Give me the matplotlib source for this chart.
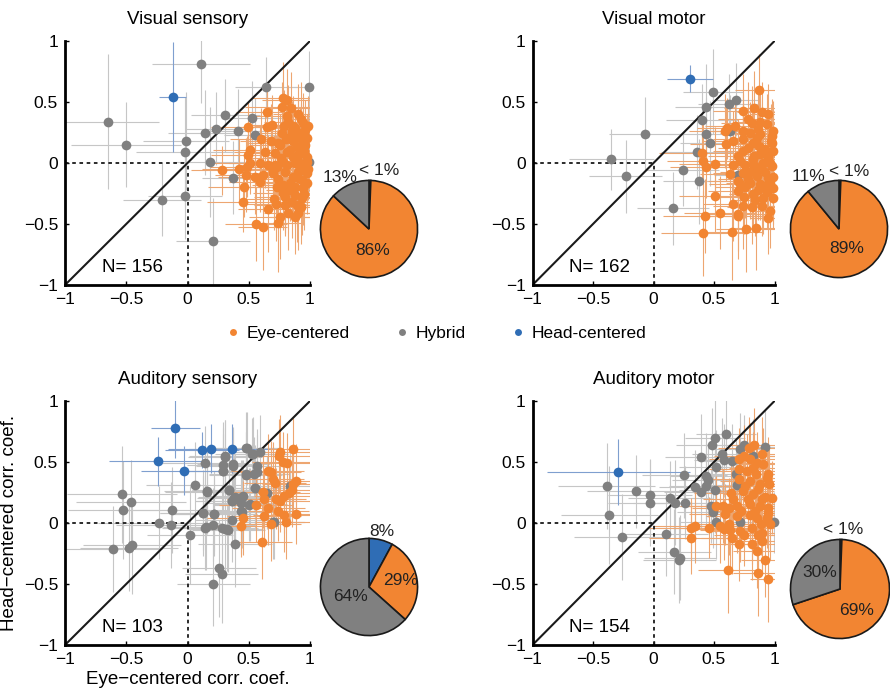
import numpy as np
import matplotlib.pyplot as plt
from matplotlib.lines import Line2D

plt.rcParams['font.family'] = ['Liberation Sans', 'DejaVu Sans']

ORANGE = '#f28532'
GRAY = '#808080'
BLUE = '#2f6db5'

titles = ["Visual sensory", "Visual motor", "Auditory sensory", "Auditory motor"]
n_cells = [156, 162, 103, 154]
tick_vals = [-1, -0.5, 0, 0.5, 1]
tick_labels = ["\u22121", "\u22120.5", "0", "0.5", "1"]

# each point: (eye-centered r, head-centered r, x error, y error)
vs_head = [(-0.12, 0.54, 0.11, 0.45)]
vs_hyb = [
    (0.11, 0.81, 0.40, 0.32), (-0.65, 0.34, 0.42, 0.55), (-0.50, 0.15, 0.45, 0.35),
    (-0.21, -0.30, 0.32, 0.30), (-0.02, -0.27, 0.30, 0.35), (-0.01, 0.18, 0.35, 0.40),
    (-0.02, 0.09, 0.40, 0.45), (0.14, 0.25, 0.30, 0.35), (0.23, 0.28, 0.25, 0.30),
    (0.31, 0.39, 0.28, 0.30), (0.64, 0.62, 0.25, 0.25), (0.99, 0.62, 0.15, 0.30),
    (0.53, 0.37, 0.25, 0.30), (0.55, 0.23, 0.25, 0.30), (0.41, 0.26, 0.25, 0.35),
    (0.18, 0.005, 0.30, 0.45), (0.37, -0.12, 0.25, 0.30), (0.21, -0.64, 0.30, 0.35),
    (0.99, 0.01, 0.15, 0.25),
]
vs_eye = [
    (0.78, 0.53, 0.25, 0.30), (0.81, 0.52, 0.20, 0.25), (0.77, 0.46, 0.30, 0.20),
    (0.845, 0.45, 0.20, 0.30), (0.646, 0.415, 0.25, 0.20), (0.81, 0.385, 0.30, 0.25),
    (0.823, 0.34, 0.20, 0.30), (0.946, 0.325, 0.15, 0.25), (0.491, 0.298, 0.30, 0.20),
    (0.646, 0.292, 0.25, 0.30), (0.687, 0.31, 0.20, 0.25), (0.77, 0.243, 0.25, 0.30),
    (0.877, 0.284, 0.20, 0.20), (0.96, 0.27, 0.15, 0.25), (0.837, 0.215, 0.25, 0.30),
    (0.918, 0.202, 0.20, 0.25), (0.973, 0.202, 0.15, 0.20), (0.741, 0.161, 0.25, 0.30),
    (0.891, 0.133, 0.20, 0.25), (0.51, 0.11, 0.30, 0.25), (0.633, 0.093, 0.25, 0.30),
    (0.714, 0.079, 0.20, 0.25), (0.81, 0.093, 0.25, 0.20), (0.932, 0.079, 0.20, 0.30),
    (0.491, 0.065, 0.30, 0.20), (0.973, 0.052, 0.15, 0.25), (0.51, -0.003, 0.30, 0.25),
    (0.592, 0.002, 0.25, 0.30), (0.714, -0.017, 0.25, 0.25), (0.782, 0.011, 0.20, 0.30),
    (0.877, -0.003, 0.20, 0.25), (0.946, -0.017, 0.15, 0.20), (0.42, -0.052, 0.30, 0.25),
    (0.475, -0.099, 0.25, 0.30), (0.70, -0.058, 0.25, 0.25), (0.796, -0.071, 0.20, 0.30),
    (0.905, -0.071, 0.20, 0.25), (0.973, -0.085, 0.15, 0.25), (0.551, -0.118, 0.30, 0.30),
    (0.592, -0.153, 0.25, 0.25), (0.741, -0.134, 0.25, 0.30), (0.932, -0.14, 0.20, 0.25),
    (0.464, -0.194, 0.30, 0.25), (0.728, -0.20, 0.25, 0.30), (0.837, -0.222, 0.20, 0.25),
    (0.946, -0.208, 0.15, 0.30), (0.877, -0.263, 0.20, 0.25), (0.796, -0.276, 0.25, 0.30),
    (0.709, -0.298, 0.25, 0.25), (0.932, -0.29, 0.20, 0.30), (0.456, -0.317, 0.30, 0.25),
    (0.85, -0.317, 0.20, 0.30), (0.796, -0.345, 0.25, 0.25), (0.891, -0.345, 0.20, 0.30),
    (0.66, -0.38, 0.25, 0.35), (0.823, -0.413, 0.20, 0.30), (0.755, -0.44, 0.25, 0.35),
    (0.877, -0.446, 0.20, 0.30), (0.741, -0.495, 0.20, 0.40), (0.559, -0.50, 0.25, 0.30),
    (0.613, -0.528, 0.20, 0.35), (0.924, 0.243, 0.15, 0.25), (0.864, 0.183, 0.20, 0.30),
    (0.755, 0.148, 0.25, 0.25), (0.837, 0.107, 0.20, 0.30), (0.959, 0.148, 0.15, 0.25),
    (0.905, 0.066, 0.20, 0.25), (0.973, 0.011, 0.15, 0.30), (0.81, -0.016, 0.25, 0.25),
    (0.728, -0.03, 0.25, 0.30), (0.918, -0.057, 0.20, 0.25), (0.864, -0.112, 0.20, 0.30),
    (0.973, -0.167, 0.15, 0.25), (0.782, -0.249, 0.25, 0.30), (0.70, -0.085, 0.25, 0.25),
    (0.483, -0.03, 0.30, 0.25), (0.905, -0.413, 0.20, 0.30), (0.279, -0.06, 0.25, 0.20),
    (0.90, 0.40, 0.20, 0.25), (0.93, 0.36, 0.15, 0.30), (0.86, 0.30, 0.20, 0.25),
    (0.98, 0.30, 0.15, 0.25), (0.90, 0.22, 0.20, 0.30), (0.80, 0.20, 0.25, 0.25),
    (0.95, 0.10, 0.15, 0.25), (0.86, 0.05, 0.20, 0.30), (0.76, 0.04, 0.25, 0.25),
    (0.90, -0.12, 0.20, 0.30), (0.84, -0.16, 0.20, 0.25), (0.95, -0.25, 0.15, 0.30),
    (0.88, -0.20, 0.20, 0.25), (0.78, -0.18, 0.25, 0.30), (0.66, -0.02, 0.25, 0.25),
    (0.62, -0.10, 0.25, 0.30), (0.98, -0.05, 0.15, 0.25), (0.92, 0.00, 0.20, 0.30),
    (0.85, 0.26, 0.20, 0.25), (0.79, 0.30, 0.25, 0.30), (0.93, 0.14, 0.20, 0.25),
    (0.68, 0.18, 0.25, 0.30), (0.60, 0.20, 0.25, 0.25), (0.72, -0.34, 0.25, 0.30),
    (0.93, -0.36, 0.20, 0.30),
]

vm_head = [(0.30, 0.69, 0.19, 0.11)]
vm_hyb = [
    (0.49, 0.585, 0.25, 0.35), (0.43, 0.46, 0.25, 0.35), (0.40, 0.35, 0.30, 0.30),
    (0.43, 0.235, 0.30, 0.30), (0.47, 0.16, 0.25, 0.35), (0.36, 0.09, 0.30, 0.30),
    (-0.07, 0.24, 0.30, 0.30), (-0.35, 0.03, 0.35, 0.25), (-0.23, -0.11, 0.30, 0.30),
    (0.24, -0.055, 0.30, 0.30), (0.38, -0.15, 0.30, 0.35), (0.16, -0.37, 0.30, 0.30),
    (0.62, 0.48, 0.25, 0.25), (0.68, 0.52, 0.20, 0.30), (0.63, 0.26, 0.25, 0.30),
    (0.70, -0.10, 0.20, 0.25), (0.95, -0.20, 0.15, 0.25),
]
vm_eye = [
    (0.874, 0.596, 0.20, 0.30), (0.742, 0.426, 0.25, 0.30), (0.894, 0.418, 0.20, 0.25),
    (0.831, 0.451, 0.25, 0.30), (0.674, 0.303, 0.25, 0.25), (0.591, 0.262, 0.30, 0.30),
    (0.61, 0.284, 0.25, 0.25), (0.811, 0.33, 0.25, 0.30), (0.935, 0.317, 0.15, 0.25),
    (0.742, 0.262, 0.25, 0.30), (0.88, 0.235, 0.20, 0.25), (0.977, 0.221, 0.15, 0.30),
    (0.654, 0.18, 0.25, 0.25), (0.60, 0.153, 0.30, 0.30), (0.825, 0.167, 0.20, 0.25),
    (0.742, 0.098, 0.25, 0.30), (0.92, 0.112, 0.20, 0.25), (0.99, 0.098, 0.15, 0.30),
    (0.398, 0.085, 0.35, 0.25), (0.412, 0.016, 0.30, 0.30), (0.434, -0.033, 0.30, 0.25),
    (0.508, -0.005, 0.30, 0.30), (0.714, 0.016, 0.25, 0.25), (0.825, 0.03, 0.20, 0.30),
    (0.907, 0.003, 0.20, 0.25), (0.977, -0.025, 0.15, 0.30), (0.632, -0.093, 0.25, 0.25),
    (0.742, -0.079, 0.25, 0.30), (0.853, -0.107, 0.20, 0.25), (0.949, -0.12, 0.15, 0.30),
    (0.701, -0.148, 0.25, 0.25), (0.797, -0.161, 0.20, 0.30), (0.92, -0.189, 0.20, 0.25),
    (0.99, -0.202, 0.15, 0.30), (0.508, -0.27, 0.30, 0.30), (0.701, -0.229, 0.25, 0.30),
    (0.825, -0.257, 0.20, 0.25), (0.907, -0.284, 0.20, 0.30), (0.99, -0.284, 0.15, 0.25),
    (0.659, -0.339, 0.25, 0.30), (0.742, -0.352, 0.25, 0.35), (0.811, -0.361, 0.20, 0.30),
    (0.894, -0.352, 0.20, 0.25), (0.963, -0.393, 0.15, 0.30), (0.426, -0.434, 0.35, 0.30),
    (0.55, -0.407, 0.30, 0.30), (0.701, -0.434, 0.25, 0.35), (0.949, -0.448, 0.15, 0.30),
    (0.412, -0.576, 0.35, 0.35), (0.646, -0.562, 0.25, 0.40), (0.765, -0.543, 0.25, 0.35),
    (0.847, -0.529, 0.20, 0.35), (0.879, 0.336, 0.20, 0.25), (0.738, 0.193, 0.25, 0.30),
    (0.858, 0.208, 0.20, 0.25), (0.968, 0.18, 0.15, 0.30), (0.985, 0.262, 0.15, 0.25),
    (0.821, -0.011, 0.20, 0.30), (0.985, -0.116, 0.15, 0.25), (0.711, -0.175, 0.25, 0.30),
    (0.697, -0.42, 0.25, 0.30), (0.78, 0.36, 0.25, 0.30), (0.95, 0.40, 0.15, 0.25),
    (0.86, 0.28, 0.20, 0.30), (0.78, 0.12, 0.25, 0.25), (0.88, 0.07, 0.20, 0.30),
    (0.95, 0.05, 0.15, 0.25), (0.76, -0.02, 0.25, 0.30), (0.86, -0.05, 0.20, 0.25),
    (0.92, -0.07, 0.20, 0.30), (0.78, -0.13, 0.25, 0.25), (0.88, -0.17, 0.20, 0.30),
    (0.96, -0.16, 0.15, 0.25), (0.75, -0.28, 0.25, 0.30), (0.86, -0.22, 0.20, 0.25),
    (0.94, -0.24, 0.15, 0.30), (0.80, 0.25, 0.25, 0.25), (0.70, 0.06, 0.25, 0.30),
    (0.66, -0.02, 0.25, 0.25), (0.98, 0.16, 0.15, 0.30), (0.87, 0.14, 0.20, 0.25),
    (0.83, 0.06, 0.20, 0.25), (0.90, -0.02, 0.20, 0.30), (0.80, -0.07, 0.25, 0.25),
    (0.96, 0.00, 0.15, 0.25), (0.84, -0.30, 0.20, 0.30), (0.76, -0.20, 0.25, 0.25),
]

as_head = [
    (-0.10, 0.78, 0.20, 0.25), (-0.24, 0.505, 0.40, 0.20), (-0.03, 0.43, 0.35, 0.20),
    (0.12, 0.60, 0.30, 0.15), (0.19, 0.61, 0.35, 0.20), (0.36, 0.61, 0.35, 0.20),
]
as_hyb = [
    (0.475, 0.612, 0.30, 0.30), (0.532, 0.568, 0.25, 0.30), (0.592, 0.582, 0.25, 0.30),
    (0.309, 0.546, 0.30, 0.30), (0.143, 0.492, 0.35, 0.30), (0.293, 0.426, 0.30, 0.35),
    (0.371, 0.464, 0.30, 0.30), (0.475, 0.393, 0.30, 0.35), (0.567, 0.418, 0.25, 0.30),
    (0.061, 0.314, 0.40, 0.35), (0.159, 0.262, 0.35, 0.30), (0.339, 0.273, 0.30, 0.35),
    (0.554, 0.287, 0.25, 0.30), (0.38, 0.208, 0.30, 0.35), (0.448, 0.213, 0.30, 0.30),
    (0.366, 0.18, 0.30, 0.35), (0.505, 0.15, 0.30, 0.30), (0.437, 0.096, 0.30, 0.35),
    (0.129, 0.082, 0.35, 0.35), (0.216, 0.074, 0.35, 0.30), (0.361, 0.027, 0.30, 0.35),
    (0.148, -0.036, 0.35, 0.35), (0.205, -0.014, 0.35, 0.30), (0.279, -0.038, 0.30, 0.35),
    (0.32, -0.046, 0.30, 0.35), (0.02, -0.096, 0.35, 0.40), (0.388, -0.175, 0.30, 0.35),
    (0.257, -0.372, 0.30, 0.40), (0.279, -0.418, 0.30, 0.40), (0.211, -0.497, 0.30, 0.35),
    (-0.129, 0.107, 0.45, 0.35), (-0.23, 0.003, 0.50, 0.30), (-0.135, -0.016, 0.45, 0.35),
    (-0.535, 0.234, 0.45, 0.40), (-0.461, 0.169, 0.45, 0.35), (-0.527, 0.107, 0.45, 0.40),
    (-0.605, -0.213, 0.40, 0.35), (-0.475, -0.205, 0.40, 0.35), (-0.456, -0.183, 0.40, 0.40),
    (0.701, 0.005, 0.25, 0.30), (0.837, 0.30, 0.25, 0.30), (0.483, 0.612, 0.30, 0.30),
    (0.524, 0.563, 0.30, 0.30), (0.306, 0.541, 0.30, 0.30), (0.292, 0.475, 0.30, 0.35),
    (0.374, 0.486, 0.30, 0.30), (0.286, 0.426, 0.30, 0.30), (0.477, 0.399, 0.30, 0.35),
    (0.539, 0.404, 0.30, 0.30), (0.567, 0.467, 0.25, 0.30), (0.163, 0.257, 0.35, 0.35),
    (0.34, 0.27, 0.30, 0.30), (0.388, 0.213, 0.30, 0.35), (0.456, 0.219, 0.30, 0.30),
    (0.434, 0.167, 0.30, 0.35), (0.361, 0.18, 0.30, 0.30), (0.551, 0.29, 0.25, 0.35),
    (0.51, 0.153, 0.30, 0.30), (0.647, 0.249, 0.25, 0.30), (0.216, 0.077, 0.35, 0.35),
    (0.442, 0.093, 0.30, 0.30), (0.306, -0.049, 0.30, 0.35), (0.333, -0.054, 0.30, 0.35),
    (0.71, 0.006, 0.25, 0.30), (0.143, -0.038, 0.35, 0.35), (0.129, 0.082, 0.35, 0.30),
]
as_eye = [
    (0.755, 0.585, 0.25, 0.30), (0.864, 0.609, 0.20, 0.25), (0.75, 0.55, 0.25, 0.30),
    (0.81, 0.49, 0.25, 0.25), (0.654, 0.429, 0.30, 0.30), (0.679, 0.42, 0.25, 0.25),
    (0.886, 0.344, 0.20, 0.30), (0.714, 0.33, 0.25, 0.25), (0.619, 0.257, 0.30, 0.30),
    (0.624, 0.194, 0.30, 0.25), (0.556, 0.148, 0.30, 0.30), (0.755, 0.18, 0.25, 0.25),
    (0.79, 0.22, 0.25, 0.30), (0.826, 0.246, 0.25, 0.25), (0.85, 0.27, 0.25, 0.30),
    (0.624, 0.057, 0.30, 0.25), (0.456, 0.041, 0.30, 0.30), (0.437, -0.025, 0.30, 0.25),
    (0.785, 0.066, 0.25, 0.30), (0.888, 0.074, 0.20, 0.25), (0.801, 0.005, 0.25, 0.30),
    (0.605, -0.156, 0.25, 0.30), (0.78, 0.50, 0.25, 0.25), (0.70, 0.36, 0.25, 0.30),
    (0.74, 0.10, 0.25, 0.25), (0.66, 0.12, 0.30, 0.30), (0.86, 0.32, 0.25, 0.25),
    (0.68, -0.01, 0.25, 0.30), (0.72, 0.20, 0.25, 0.25),
]

am_head = [(-0.29, 0.42, 0.59, 0.27)]
am_hyb = [
    (0.60, 0.732, 0.25, 0.30), (0.508, 0.699, 0.25, 0.35), (0.486, 0.639, 0.30, 0.30),
    (0.393, 0.541, 0.30, 0.35), (0.569, 0.563, 0.25, 0.30), (0.583, 0.514, 0.25, 0.30),
    (0.646, 0.508, 0.25, 0.30), (0.715, 0.604, 0.20, 0.30), (0.75, 0.639, 0.20, 0.25),
    (0.924, 0.623, 0.15, 0.30), (0.514, 0.459, 0.30, 0.30), (0.434, 0.385, 0.30, 0.35),
    (0.453, 0.35, 0.30, 0.30), (0.255, 0.39, 0.35, 0.35), (0.343, 0.295, 0.30, 0.30),
    (0.431, 0.303, 0.30, 0.35), (0.39, 0.257, 0.30, 0.30), (0.508, 0.268, 0.30, 0.35),
    (-0.387, 0.303, 0.40, 0.35), (-0.147, 0.26, 0.40, 0.30), (-0.029, 0.227, 0.35, 0.30),
    (-0.029, 0.164, 0.35, 0.35), (0.137, 0.208, 0.35, 0.30), (0.18, 0.167, 0.35, 0.35),
    (0.257, 0.167, 0.30, 0.30), (-0.365, 0.068, 0.40, 0.40), (-0.261, -0.115, 0.40, 0.35),
    (0.10, -0.087, 0.35, 0.35), (0.172, -0.235, 0.30, 0.35), (0.219, -0.284, 0.30, 0.35),
    (0.213, -0.303, 0.30, 0.35), (0.476, 0.14, 0.30, 0.30), (0.495, 0.093, 0.30, 0.30),
    (0.517, 0.008, 0.30, 0.30), (0.688, 0.314, 0.25, 0.30), (0.715, 0.005, 0.25, 0.30),
    (0.996, 0.005, 0.15, 0.25), (0.82, 0.55, 0.20, 0.30), (0.68, 0.40, 0.25, 0.30),
]
am_eye = [
    (0.833, 0.639, 0.20, 0.30), (0.786, 0.617, 0.25, 0.25), (0.90, 0.568, 0.20, 0.30),
    (0.709, 0.527, 0.25, 0.25), (0.797, 0.522, 0.25, 0.30), (0.858, 0.495, 0.20, 0.25),
    (0.903, 0.481, 0.20, 0.30), (0.707, 0.44, 0.25, 0.25), (0.771, 0.426, 0.25, 0.30),
    (0.845, 0.399, 0.20, 0.25), (0.948, 0.404, 0.15, 0.30), (0.707, 0.358, 0.25, 0.25),
    (0.797, 0.344, 0.25, 0.30), (0.881, 0.317, 0.20, 0.25), (0.956, 0.317, 0.15, 0.30),
    (0.935, 0.372, 0.15, 0.25), (0.638, 0.248, 0.30, 0.30), (0.743, 0.262, 0.25, 0.25),
    (0.826, 0.235, 0.25, 0.30), (0.922, 0.213, 0.20, 0.25), (0.977, 0.208, 0.15, 0.30),
    (0.517, 0.139, 0.30, 0.25), (0.578, 0.139, 0.30, 0.30), (0.688, 0.139, 0.25, 0.25),
    (0.797, 0.153, 0.25, 0.30), (0.881, 0.139, 0.20, 0.25), (0.948, 0.126, 0.15, 0.30),
    (0.591, 0.071, 0.30, 0.25), (0.688, 0.057, 0.25, 0.30), (0.797, 0.065, 0.25, 0.25),
    (0.853, 0.044, 0.20, 0.30), (0.935, 0.044, 0.15, 0.25), (0.343, -0.025, 0.35, 0.30),
    (0.31, -0.044, 0.35, 0.25), (0.31, -0.12, 0.35, 0.30), (0.461, -0.038, 0.30, 0.25),
    (0.549, -0.025, 0.30, 0.30), (0.626, -0.011, 0.30, 0.25), (0.632, -0.06, 0.25, 0.30),
    (0.715, -0.066, 0.25, 0.25), (0.81, -0.038, 0.25, 0.30), (0.892, -0.011, 0.20, 0.25),
    (0.96, -0.005, 0.15, 0.30), (0.646, -0.12, 0.25, 0.30), (0.816, -0.169, 0.25, 0.30),
    (0.709, -0.175, 0.25, 0.30), (0.90, -0.148, 0.20, 0.25), (0.853, -0.229, 0.20, 0.30),
    (0.922, -0.303, 0.20, 0.30), (0.614, -0.385, 0.25, 0.35), (0.861, -0.413, 0.20, 0.35),
    (0.949, -0.459, 0.15, 0.35), (0.75, 0.55, 0.25, 0.25), (0.82, 0.45, 0.20, 0.30),
    (0.76, 0.30, 0.25, 0.25), (0.86, 0.28, 0.20, 0.30), (0.90, 0.20, 0.20, 0.25),
    (0.66, 0.20, 0.25, 0.30), (0.78, 0.20, 0.25, 0.25), (0.84, 0.10, 0.20, 0.30),
    (0.72, 0.10, 0.25, 0.25), (0.95, 0.08, 0.15, 0.30), (0.62, 0.12, 0.30, 0.25),
    (0.90, -0.08, 0.20, 0.30), (0.75, -0.10, 0.25, 0.25), (0.86, -0.10, 0.20, 0.30),
    (0.58, -0.05, 0.30, 0.25),
]

# pie shares: head, eye, hybrid (clockwise from top)
pie_vals = [[0.6, 86, 13], [0.6, 89, 11], [8, 29, 64], [0.6, 69, 30]]
pie_texts = [["< 1%", "86%", "13%"], ["< 1%", "89%", "11%"],
             ["8%", "29%", "64%"], ["< 1%", "69%", "30%"]]

panels = [(vs_eye, vs_hyb, vs_head), (vm_eye, vm_hyb, vm_head),
          (as_eye, as_hyb, as_head), (am_eye, am_hyb, am_head)]

fig = plt.figure(figsize=(8.9, 6.98), dpi=100)
W, H = 890.0, 698.0

# axes boxes in pixels: left, top, right, bottom
ax_px = [(65, 41, 310, 285), (532.5, 41, 774.5, 285),
         (65, 401, 310, 645), (532.5, 401, 774.5, 645)]
pie_px = [(369, 229, 51), (839, 229, 51), (369, 587, 51), (840, 589, 52)]
pie_pos = [[(0.2, 1.2), (0.08, -0.45), (-0.6, 1.06)],
           [(0.2, 1.18), (0.16, -0.41), (-0.62, 1.08)],
           [(0.27, 1.14), (0.65, 0.14), (-0.39, -0.2)],
           [(0.06, 1.2), (0.33, -0.43), (-0.4, 0.33)]]

for i, (eye, hyb, head) in enumerate(panels):
    l, t, r, b = ax_px[i]
    ax = fig.add_axes([l / W, 1 - b / H, (r - l) / W, (b - t) / H])
    for pts, ecol in ((hyb, '#c6c6c6'), (head, '#7f9fcf'), (eye, '#eda671')):
        a = np.array(pts)
        ax.errorbar(a[:, 0], a[:, 1], xerr=a[:, 2], yerr=a[:, 3], fmt='none',
                    ecolor=ecol, elinewidth=0.8, capsize=0, zorder=1)
    ax.plot([-1, 1], [-1, 1], color='#1a1a1a', lw=1.5, zorder=2)
    ax.plot([-1, 0], [0, 0], color='#1a1a1a', ls=(0, (2, 2)), lw=1.3, zorder=2)
    ax.plot([0, 0], [-1, 0], color='#1a1a1a', ls=(0, (2, 2)), lw=1.3, zorder=2)
    for pts, col in ((hyb, GRAY), (head, BLUE), (eye, ORANGE)):
        a = np.array(pts)
        ax.plot(a[:, 0], a[:, 1], 'o', color=col, ms=7, mec='none', zorder=4,
                clip_on=False)

    ax.set_xlim(-1, 1)
    ax.set_ylim(-1, 1)
    ax.set_xticks(tick_vals)
    ax.set_xticklabels(tick_labels)
    ax.set_yticks(tick_vals)
    ax.set_yticklabels(tick_labels)
    ax.tick_params(direction='in', length=3, width=1, labelsize=12.5, pad=5)
    for s in ('top', 'right'):
        ax.spines[s].set_visible(False)
    for s in ('left', 'bottom'):
        ax.spines[s].set_linewidth(2)
    ax.set_title(titles[i], fontsize=13.5, pad=12)
    ax.text(-0.7, -0.86, f"N= {n_cells[i]}", fontsize=13.5, va='center', ha='left')
    if i == 2:
        ax.set_xlabel("Eye\u2212centered corr. coef.", fontsize=13.5, labelpad=3)
        ax.set_ylabel("Head\u2212centered corr. coef.", fontsize=13.5, labelpad=4)

    cx, cy, rad = pie_px[i]
    pax = fig.add_axes([(cx - rad) / W, 1 - (cy + rad) / H, 2 * rad / W, 2 * rad / H])
    pax.pie(pie_vals[i], colors=[BLUE, ORANGE, GRAY], startangle=90,
            counterclock=False, radius=1,
            wedgeprops=dict(edgecolor='#1a1a1a', linewidth=1.2))
    pax.set_xlim(-1.05, 1.05)
    pax.set_ylim(-1.05, 1.05)
    pax.set_aspect('equal')
    pax.axis('off')
    for txt, (px, py) in zip(pie_texts[i], pie_pos[i]):
        pax.text(px, py, txt, fontsize=12.5, ha='center', va='center',
                 color='#222222', clip_on=False)

handles = [Line2D([], [], marker='o', ls='none', color=c, ms=5, mec='none')
           for c in (ORANGE, GRAY, BLUE)]
fig.legend(handles, ["Eye-centered", "Hybrid", "Head-centered"], ncol=3,
           loc='center', bbox_to_anchor=(0.488, 1 - 333 / H), frameon=False,
           fontsize=12.5, handletextpad=0.2, columnspacing=2.4, handlelength=1.2)

fig.savefig("out.png", dpi=100)
